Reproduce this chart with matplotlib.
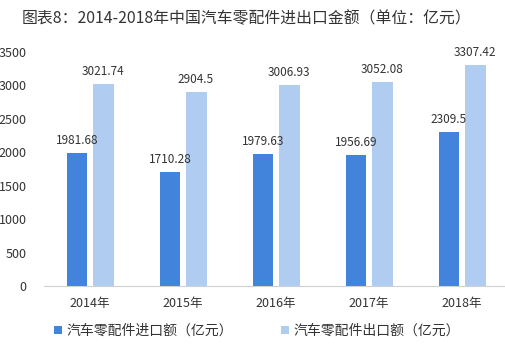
import matplotlib.pyplot as plt
import numpy as np

plt.rcParams['font.family'] = ['Noto Sans CJK SC', 'DejaVu Sans']

years = ['2014年', '2015年', '2016年', '2017年', '2018年']
imports = [1981.68, 1710.28, 1979.63, 1956.69, 2309.5]
exports = [3021.74, 2904.5, 3006.93, 3052.08, 3307.42]
import_labels = ['1981.68', '1710.28', '1979.63', '1956.69', '2309.5']
export_labels = ['3021.74', '2904.5', '3006.93', '3052.08', '3307.42']

fig = plt.figure(figsize=(5.06, 3.58), dpi=100)
ax = fig.add_axes([0.086, 0.201, 0.919, 0.654])

x = np.arange(len(years))
w = 0.225
off = 0.14
b1 = ax.bar(x - off, imports, w, color='#4283db', label='汽车零配件进口额（亿元）')
b2 = ax.bar(x + off, exports, w, color='#b0cdf1', label='汽车零配件出口额（亿元）')

for xi, v, s in zip(x, imports, import_labels):
    ax.text(xi - off, v + 90, s, ha='center', va='bottom', fontsize=8.5, color='#333333')
for xi, v, s in zip(x, exports, export_labels):
    ax.text(xi + off, v + 90, s, ha='center', va='bottom', fontsize=8.5, color='#333333')

ax.set_xlim(-0.5, 4.5)
ax.set_ylim(0, 3500)
ax.set_yticks(np.arange(0, 3501, 500))
ax.set_xticks(x)
ax.set_xticklabels(years)
ax.tick_params(axis='both', length=0, labelsize=9, colors='#333333')
ax.tick_params(axis='x', pad=8)
ax.tick_params(axis='y', pad=12)
for s in ['top', 'right', 'left']:
    ax.spines[s].set_visible(False)
ax.spines['bottom'].set_color('#d0d0d0')

fig.text(0.043, 0.947, '图表8：2014-2018年中国汽车零配件进出口金额（单位：亿元）',
         fontsize=11.4, color='#333333', va='center', ha='left')

fig.legend(handles=[b1, b2], loc='center', bbox_to_anchor=(0.508, 0.075), ncol=2,
           frameon=False, fontsize=10, handlelength=0.55, handleheight=0.55,
           columnspacing=3.5, handletextpad=0.3, labelcolor='#333333')

fig.savefig('out.png', dpi=100)
